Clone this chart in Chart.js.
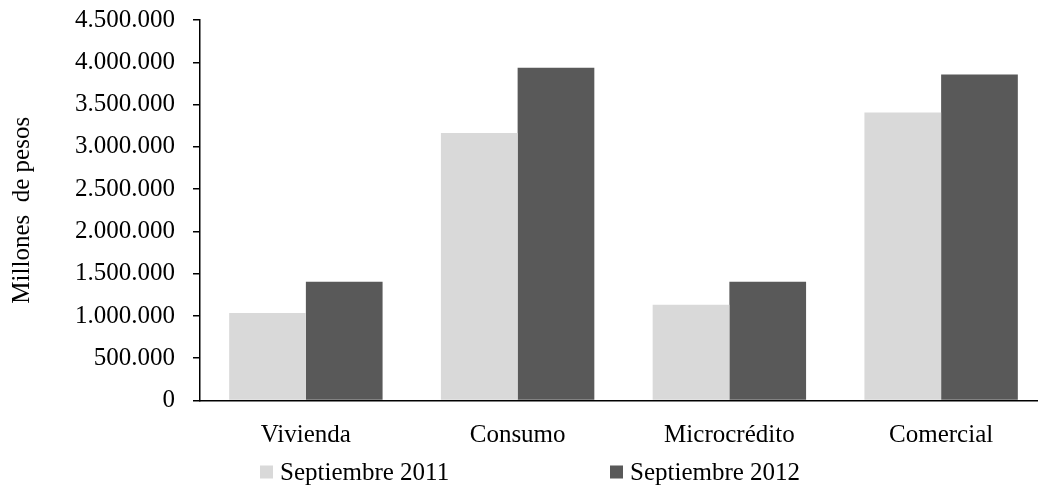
<!DOCTYPE html>
<html lang="es">
<head>
<meta charset="utf-8">
<title>Cartera por modalidad</title>
<script src="https://cdn.jsdelivr.net/npm/chart.js@4.4.1/dist/chart.umd.min.js"></script>
<style>
  html, body { margin: 0; padding: 0; background: #fff; overflow: hidden; }
  #wrap { width: 1047px; height: 489px; }
</style>
</head>
<body>
<div id="wrap"><canvas id="chart" width="1047" height="489"></canvas></div>
<script>
// Cartera bruta por modalidad (millones de pesos)
const categories = ['Vivienda', 'Consumo', 'Microcrédito', 'Comercial'];
const seriesNames = ['Septiembre 2011', 'Septiembre 2012'];
const sep2011 = [1034000, 3164000, 1132000, 3406000];
const sep2012 = [1405000, 3935000, 1405000, 3856000];
const yTicks = [0, 500000, 1000000, 1500000, 2000000, 2500000, 3000000, 3500000, 4000000, 4500000];
const yTitle = 'Millones  de pesos';

const FONT = 'Liberation Serif, "Times New Roman", serif';

function miles(v) {
  return String(Math.round(v)).replace(/\B(?=(\d{3})+(?!\d))/g, '.');
}

// Leyenda en una fila debajo del eje horizontal
const legendRow = {
  id: 'legendRow',
  afterDraw(chart, args, opts) {
    const ctx = chart.ctx;
    const area = chart.chartArea;
    ctx.save();
    ctx.font = opts.size + 'px ' + FONT;
    ctx.textBaseline = 'middle';
    ctx.textAlign = 'left';
    chart.data.datasets.forEach((ds, i) => {
      const x = area.left + opts.offsets[i];
      const y = opts.y;
      ctx.fillStyle = ds.backgroundColor;
      ctx.fillRect(x, y - opts.box / 2, opts.box, opts.box);
      ctx.fillStyle = '#000';
      ctx.fillText(ds.label, x + opts.box + opts.gap, y + 1);
    });
    ctx.restore();
  }
};

new Chart(document.getElementById('chart'), {
  type: 'bar',
  data: {
    labels: categories,
    datasets: [
      { label: seriesNames[0], data: sep2011, backgroundColor: '#D9D9D9', borderWidth: 0 },
      { label: seriesNames[1], data: sep2012, backgroundColor: '#595959', borderWidth: 0 }
    ]
  },
  options: {
    responsive: false,
    devicePixelRatio: 1,
    animation: false,
    layout: { padding: { top: 20, left: 7, right: 0, bottom: 18.5 } },
    datasets: { bar: { categoryPercentage: 0.7245, barPercentage: 1.0 } },
    plugins: {
      legend: { display: false },
      tooltip: { enabled: false },
      legendRow: { offsets: [60, 410], y: 472, box: 13, gap: 7, size: 25 }
    },
    scales: {
      x: {
        grid: { display: false, drawTicks: false },
        border: { display: true, color: '#000', width: 1.5 },
        ticks: { color: '#000', font: { family: FONT, size: 25 }, padding: 20, maxRotation: 0, autoSkip: false }
      },
      y: {
        min: 0,
        max: yTicks[yTicks.length - 1],
        afterBuildTicks(scale) { scale.ticks = yTicks.map(v => ({ value: v })); },
        afterFit(scale) { scale.width = 193; scale.paddingTop = 0; },
        grid: { drawOnChartArea: false, drawTicks: true, tickLength: 7, color: '#000', lineWidth: 1.5 },
        border: { display: true, color: '#000', width: 1.5 },
        ticks: { color: '#000', font: { family: FONT, size: 25 }, padding: 18, callback: v => miles(v) },
        title: { display: true, text: yTitle, color: '#000', font: { family: FONT, size: 25 }, padding: 0 }
      }
    }
  },
  plugins: [legendRow]
});
</script>
</body>
</html>
